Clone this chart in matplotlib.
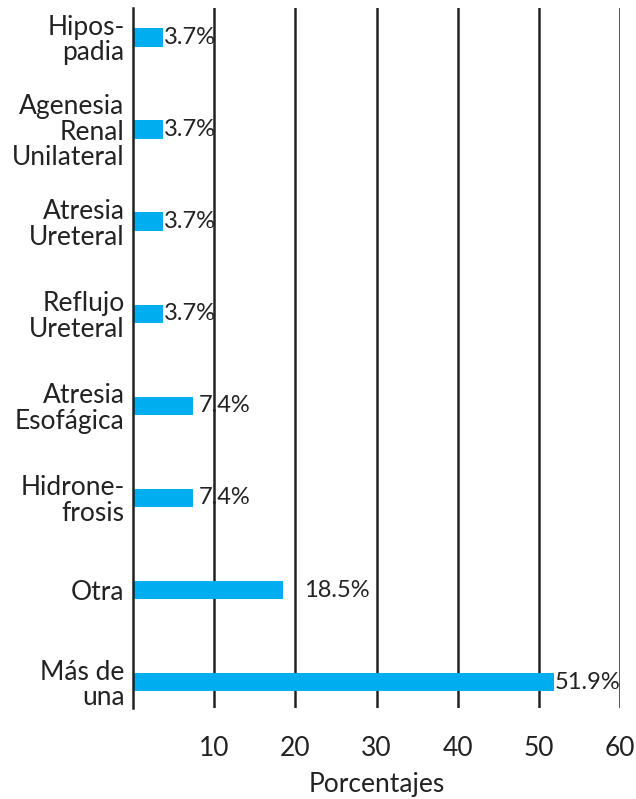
import numpy as np
import matplotlib
matplotlib.use("Agg")
import matplotlib.pyplot as plt

categories = ["Hipos-\npadia", "Agenesia\nRenal\nUnilateral", "Atresia\nUreteral",
              "Reflujo\nUreteral", "Atresia\nEsofágica", "Hidrone-\nfrosis",
              "Otra", "Más de\nuna"]
values = [3.7, 3.7, 3.7, 3.7, 7.4, 7.4, 18.5, 51.9]
xticks = [10, 20, 30, 40, 50, 60]

plt.rcParams["font.family"] = ["Lato", "DejaVu Sans"]
text_color = "#222222"
bar_color = "#00AEEF"

fig = plt.figure(figsize=(6.36, 7.99), dpi=100)
ax = fig.add_axes([0.209, 0.114, 0.766, 0.876])

y = np.arange(len(categories))
ax.barh(y, values, height=0.2, color=bar_color, zorder=3)
ax.set_ylim(len(categories) - 0.72, -0.32)
ax.set_xlim(0, 60)

# value labels (Otra label sits a bit further out in the original)
offsets = [0.5, 0.5, 0.5, 0.5, 4, 4, 15, 0.5]
for yi, v, off in zip(y, values, offsets):
    ax.annotate(f"{v}%", (v, yi), xytext=(off, 0), textcoords="offset points",
                va="center", ha="left", fontsize=17, color=text_color, zorder=4)

ax.set_yticks(y)
ax.set_yticklabels(categories, fontsize=19, color=text_color, linespacing=1.02)
ax.tick_params(axis="y", length=0, pad=6)

ax.set_xticks(xticks)
ax.set_xticklabels([str(t) for t in xticks], fontsize=19, color=text_color)
ax.tick_params(axis="x", length=0, pad=20)
ax.grid(axis="x", color="#222222", linewidth=1.8, zorder=1)

for s in ["top", "right", "bottom"]:
    ax.spines[s].set_visible(False)
ax.spines["left"].set_color("#222222")
ax.spines["left"].set_linewidth(1.8)
ax.spines["left"].set_zorder(5)

ax.set_xlabel("Porcentajes", fontsize=19, color=text_color, labelpad=8)

fig.savefig("out.png", dpi=100)
